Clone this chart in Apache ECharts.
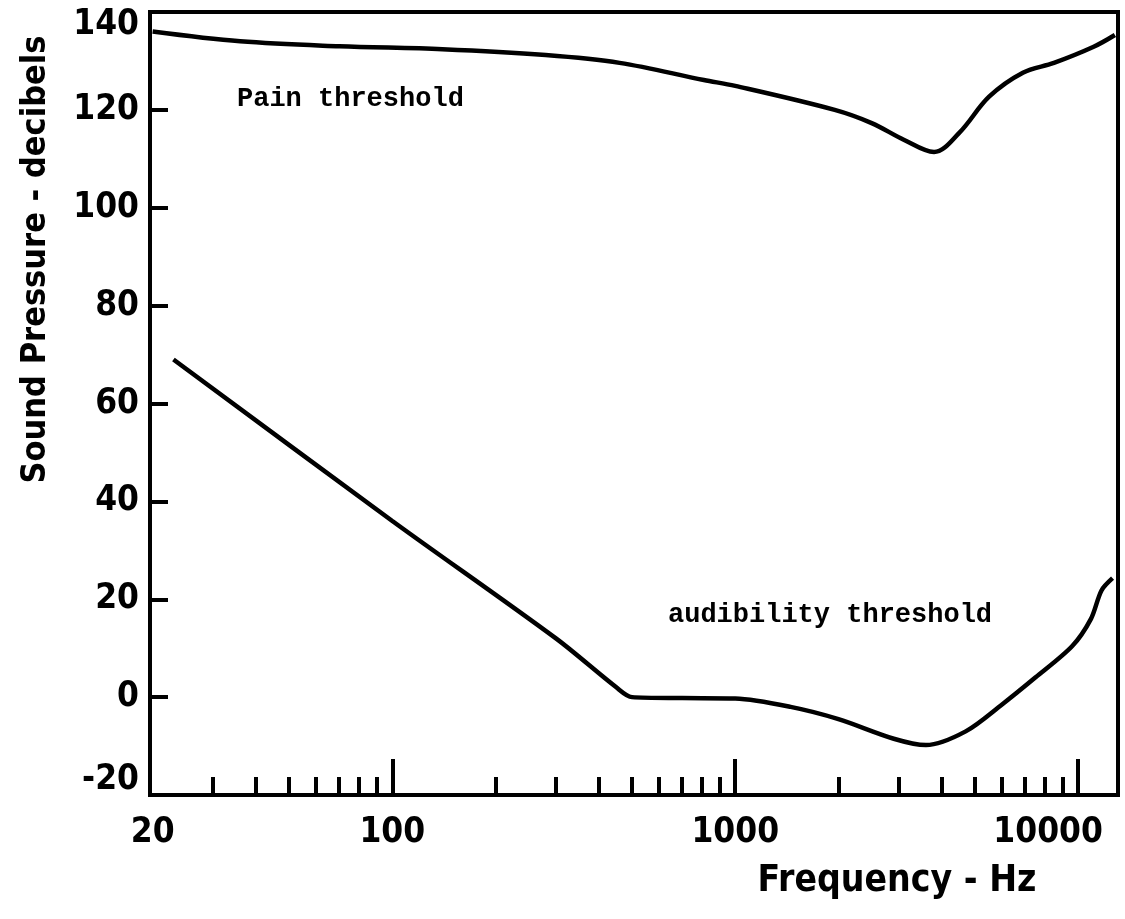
<!DOCTYPE html>
<html>
<head>
    <meta charset="utf-8">
    <title>Pain and audibility thresholds</title>
    <script src="https://cdn.jsdelivr.net/npm/echarts@6/dist/echarts.min.js"></script>
    <style>
        html, body { margin: 0; padding: 0; background: #fff; }
        #main { width: 1125px; height: 919px; }
    </style>
</head>
<body>
<div id="main"></div>
<script>
    // pain threshold (Hz, dB)
    var painFreq = [20, 36, 70, 140, 280, 460, 810, 1000, 1950, 2500, 3100, 3800, 4500, 5500, 6900, 8500, 11100, 12800];
    var painDb = [136, 134, 133, 132.4, 131.2, 129.6, 126.1, 124.9, 120, 117.3, 113.9, 111.4, 115.3, 122.7, 127.6, 129.6, 132.9, 135.3];

    // audibility threshold (Hz, dB)
    var audFreq = [23, 100, 300, 450, 500, 700, 1000, 1450, 2000, 2900, 3600, 4700, 6000, 7500, 9600, 10900, 11700, 12600];
    var audDb = [69, 36, 12, 2, 0, -0.2, -0.3, -2, -4.5, -8.5, -9.8, -7, -1.5, 4, 10.4, 16, 21.8, 24.3];

    var xLabels = [20, 100, 1000, 10000];
    var xMajorTicks = [100, 1000, 10000];
    var xMinorTicks = [30, 40, 50, 60, 70, 80, 90, 200, 300, 400, 500, 600, 700, 800, 900,
        2000, 3000, 4000, 5000, 6000, 7000, 8000, 9000];

    var numFont = "'Liberation Sans Narrow', 'DejaVu Sans Condensed', sans-serif";
    var typeFont = "'Courier New', 'Liberation Mono', monospace";

    function pairs(xs, ys) {
        var res = [];
        for (var i = 0; i < xs.length; i++) res.push([xs[i], ys[i]]);
        return res;
    }

    var chart = echarts.init(document.getElementById('main'));

    var option = {
        animation: false,
        backgroundColor: '#fff',
        grid: {
            left: 150, right: 7, top: 12, bottom: 124,
            show: true, borderColor: '#000', borderWidth: 4,
            containLabel: false, outerBoundsMode: 'none'
        },
        xAxis: [{
            type: 'log', logBase: 10, min: 19.65, max: 13070,
            name: 'Frequency - Hz', nameLocation: 'middle', nameGap: 68,
            nameTextStyle: {
                fontFamily: numFont, fontSize: 37, fontWeight: 'bold', color: '#000',
                padding: [0, 0, 0, 526]
            },
            axisLine: { show: true, onZero: false, lineStyle: { color: '#000', width: 4 } },
            axisTick: {
                show: true, inside: true, length: 36,
                customValues: xMajorTicks,
                lineStyle: { color: '#000', width: 4 }
            },
            minorTick: { show: false },
            axisLabel: {
                show: true, margin: 20, customValues: xLabels,
                fontFamily: numFont, fontSize: 35, fontWeight: 'bold', color: '#000',
                formatter: function (v) {
                    var r = Math.round(v);
                    return r === 10000 ? '{r|10000}' : String(r);
                },
                rich: {
                    r: { fontFamily: numFont, fontSize: 35, fontWeight: 'bold', color: '#000', padding: [0, 60, 0, 0] }
                }
            },
            splitLine: { show: false }
        }, {
            type: 'log', logBase: 10, min: 19.65, max: 13070, position: 'bottom',
            axisLine: { show: false, onZero: false },
            axisTick: {
                show: true, inside: true, length: 18,
                customValues: xMinorTicks,
                lineStyle: { color: '#000', width: 4 }
            },
            axisLabel: { show: false },
            splitLine: { show: false }
        }],
        yAxis: {
            type: 'value', min: -20, max: 140, interval: 20,
            name: 'Sound Pressure - decibels', nameLocation: 'middle', nameGap: 97,
            nameTextStyle: {
                fontFamily: numFont, fontSize: 34, fontWeight: 'bold', color: '#000',
                padding: [0, 0, 0, 288]
            },
            axisLine: { show: true, onZero: false, lineStyle: { color: '#000', width: 4 } },
            axisTick: { show: true, inside: true, length: 18, lineStyle: { color: '#000', width: 4 } },
            axisLabel: {
                margin: 11, fontFamily: numFont, fontSize: 35, fontWeight: 'bold', color: '#000',
                formatter: function (v) {
                    if (v === 140) return '{t|140}';
                    if (v === -20) return '{b|-20}';
                    return String(v);
                },
                rich: {
                    t: { fontFamily: numFont, fontSize: 35, fontWeight: 'bold', color: '#000', padding: [26, 0, 0, 0] },
                    b: { fontFamily: numFont, fontSize: 35, fontWeight: 'bold', color: '#000', padding: [0, 0, 30, 0] }
                }
            },
            splitLine: { show: false }
        },
        graphic: [{
            type: 'text', left: 237, top: 86,
            style: { text: 'Pain threshold', font: 'bold 27px ' + typeFont, fill: '#000' }
        }, {
            type: 'text', left: 668, top: 602,
            style: { text: 'audibility threshold', font: 'bold 27px ' + typeFont, fill: '#000' }
        }],
        series: [{
            name: 'Pain threshold', type: 'line', xAxisIndex: 0,
            data: pairs(painFreq, painDb),
            smooth: 0.35, symbol: 'none',
            lineStyle: { color: '#000', width: 4.5 }
        }, {
            name: 'audibility threshold', type: 'line', xAxisIndex: 0,
            data: pairs(audFreq, audDb),
            smooth: 0.3, symbol: 'none',
            lineStyle: { color: '#000', width: 4.5 }
        }]
    };

    chart.setOption(option);
</script>
</body>
</html>
